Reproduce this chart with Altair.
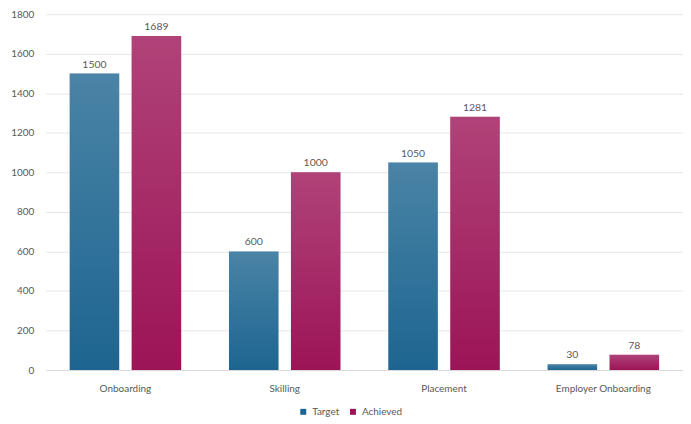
import altair as alt
import pandas as pd

categories = ["Onboarding", "Skilling", "Placement", "Employer Onboarding"]
target = [1500, 600, 1050, 30]
achieved = [1689, 1000, 1281, 78]
series = ["Target", "Achieved"]
colors = ["#1d6590", "#9c1457"]

rows = []
for c, t, a in zip(categories, target, achieved):
    rows.append({"category": c, "series": "Target", "value": t})
    rows.append({"category": c, "series": "Achieved", "value": a})
df = pd.DataFrame(rows)

FONT = "Lato"
GRAY = "#595959"

x = alt.X("category:N", sort=categories, title=None,
          scale=alt.Scale(paddingInner=0.3, paddingOuter=0.15),
          axis=alt.Axis(labelAngle=0, ticks=False, domain=True, domainColor="#d9d9d9",
                        labelColor=GRAY, labelFontSize=10, labelPadding=14, labelFont=FONT))
xo = alt.XOffset("series:N", sort=series, scale=alt.Scale(paddingInner=0.2))
y = alt.Y("value:Q", title=None,
          scale=alt.Scale(domain=[0, 1800]),
          axis=alt.Axis(values=list(range(0, 1801, 200)), format="d", ticks=False, domain=False,
                        gridColor="#e6e6e6", labelColor=GRAY, labelFontSize=10,
                        labelPadding=12, labelFont=FONT))

base = alt.Chart(df).encode(x=x, xOffset=xo, y=y)

bars = base.mark_bar().encode(
    color=alt.Color("series:N", sort=series,
                    scale=alt.Scale(domain=series, range=colors),
                    legend=alt.Legend(title=None, orient="none", legendX=254, legendY=395,
                                      direction="horizontal", symbolType="square",
                                      symbolSize=36, labelColor=GRAY, labelFontSize=10,
                                      labelFont=FONT, columnPadding=8))
)

gloss = base.mark_bar(
    color=alt.Gradient(
        gradient="linear", x1=0, y1=0, x2=0, y2=1,
        stops=[alt.GradientStop(offset=0, color="rgba(255,255,255,0.2)"),
               alt.GradientStop(offset=1, color="rgba(255,255,255,0)")]
    )
)

labels = base.mark_text(dy=-9, fontSize=10.5, color=GRAY, font=FONT).encode(
    text=alt.Text("value:Q")
)

chart = alt.layer(bars, gloss, labels).properties(
    width=641, height=358,
    padding={"left": 2, "top": 0, "right": 0, "bottom": 0}
).configure_view(stroke=None)

chart.save("out.html", embed_options={"renderer": "svg", "actions": False})
